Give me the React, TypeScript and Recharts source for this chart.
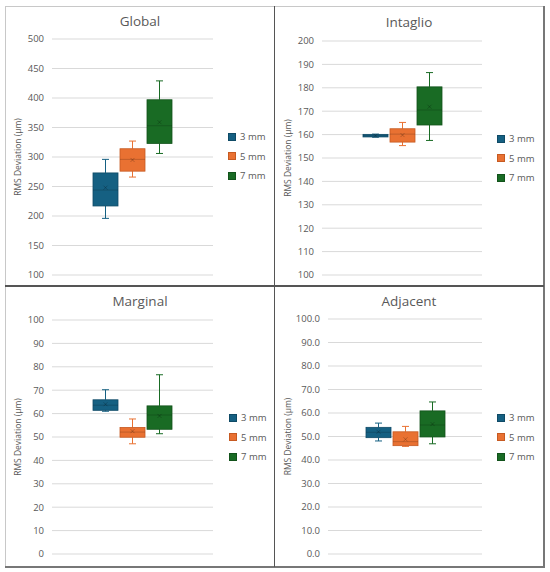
import React from 'react';
import { BarChart, Bar, XAxis, YAxis, CartesianGrid, Legend, Label } from 'recharts';

// series
const seriesNames = ['3 mm', '5 mm', '7 mm'];
const seriesColors = ['#156082', '#E97132', '#196B24'];
const seriesEdges = ['#0f4a66', '#c65a22', '#12521b'];

// each box: [min, q1, median, q3, max, mean]
const globalBoxes = [
  [196, 217, 244, 273, 296, 248],
  [266, 276, 296, 314, 327, 295],
  [306, 323, 353, 397, 429, 359],
];
const intaglioBoxes = [
  [158.9, 159.0, 159.5, 160.1, 160.2, 159.5],
  [155.3, 156.8, 160.2, 162.5, 165.2, 159.8],
  [157.5, 164.1, 170.5, 180.4, 186.5, 171.9],
];
const marginalBoxes = [
  [61.0, 61.4, 63.6, 65.9, 70.2, 64.0],
  [47.1, 49.9, 52.1, 54.1, 57.7, 52.5],
  [51.4, 53.3, 59.4, 63.3, 76.6, 59.0],
];
const adjacentBoxes = [
  [48.1, 49.5, 51.8, 53.9, 55.7, 52.0],
  [45.8, 46.1, 47.8, 52.0, 54.3, 48.8],
  [46.9, 49.8, 54.9, 60.9, 64.7, 55.3],
];

const globalTicks = [100, 150, 200, 250, 300, 350, 400, 450, 500];
const intaglioTicks = [100, 110, 120, 130, 140, 150, 160, 170, 180, 190, 200];
const marginalTicks = [0, 10, 20, 30, 40, 50, 60, 70, 80, 90, 100];
const adjacentTicks = [0, 10, 20, 30, 40, 50, 60, 70, 80, 90, 100];

const yLabel = 'RMS Deviation (µm)';
const FONT = '"Open Sans", "Liberation Sans", sans-serif';
const GREY = '#595959';

const BoxShape = (props: any) => {
  const { x, y, width, height, stat, color, edge } = props;
  const [mn, q1, med, q3, mx, mean] = stat;
  const top = Math.min(y, y + height);
  const bottom = Math.max(y, y + height);
  const ppu = (bottom - top) / (q3 - q1);
  const sy = (v: number) => bottom - (v - q1) * ppu;
  const cx = x + width / 2;
  const cap = 3.5;
  const m = 2;
  return (
    <g>
      <line x1={cx} x2={cx} y1={sy(mx)} y2={top} stroke={color} strokeWidth={1} />
      <line x1={cx} x2={cx} y1={bottom} y2={sy(mn)} stroke={color} strokeWidth={1} />
      <line x1={cx - cap} x2={cx + cap} y1={sy(mx)} y2={sy(mx)} stroke={color} strokeWidth={1} />
      <line x1={cx - cap} x2={cx + cap} y1={sy(mn)} y2={sy(mn)} stroke={color} strokeWidth={1} />
      <rect x={x} y={top} width={width} height={Math.max(bottom - top, 1.5)} fill={color} stroke={edge} strokeWidth={0.8} />
      <line x1={x} x2={x + width} y1={sy(med)} y2={sy(med)} stroke="rgba(0,0,0,0.18)" strokeWidth={1} />
      <path
        d={`M${cx - m},${sy(mean) - m}L${cx + m},${sy(mean) + m}M${cx - m},${sy(mean) + m}L${cx + m},${sy(mean) - m}`}
        stroke="rgba(0,0,0,0.22)"
        strokeWidth={1}
        fill="none"
      />
    </g>
  );
};

const LegendBox = (props: any) => {
  const { payload } = props;
  return (
    <div style={{ fontFamily: FONT, fontSize: 9.5, color: GREY }}>
      {(payload || []).map((p: any, i: number) => (
        <div key={i} style={{ height: 19.5, display: 'flex', alignItems: 'center' }}>
          <span
            style={{
              width: 8,
              height: 8,
              background: p.color,
              border: `0.8px solid ${seriesEdges[i]}`,
              boxSizing: 'border-box',
              marginRight: 4,
              display: 'inline-block',
            }}
          />
          <span>{p.value}</span>
        </div>
      ))}
    </div>
  );
};

interface PanelProps {
  title: string;
  boxes: number[][];
  ticks: number[];
  decimals: number;
  left: number;
  top: number;
  margin: { top: number; right: number; bottom: number };
  axisWidth: number;
  labelX: number;
  titleX: number;
  titleY: number;
  legendX: number;
  legendY: number;
}

const Panel: React.FC<PanelProps> = ({
  title, boxes, ticks, decimals, left, top, margin, axisWidth, labelX, titleX, titleY, legendX, legendY,
}) => {
  const row: any = { name: title };
  boxes.forEach((b, i) => {
    row['s' + i] = [b[1], b[3]];
  });
  return (
    <div style={{ position: 'absolute', left, top, width: 275, height: 287 }}>
      <div
        style={{
          position: 'absolute',
          left: titleX - 60,
          top: titleY - 10,
          width: 120,
          height: 20,
          lineHeight: '20px',
          textAlign: 'center',
          fontFamily: FONT,
          fontSize: 13.5,
          color: GREY,
        }}
      >
        {title}
      </div>
      <BarChart
        width={275}
        height={287}
        data={[row]}
        margin={{ top: margin.top, right: margin.right, bottom: margin.bottom, left: 0 }}
        barSize={25}
        barGap={2}
      >
        <CartesianGrid vertical={false} stroke="#d9d9d9" />
        <XAxis dataKey="name" hide />
        <YAxis
          width={axisWidth}
          domain={[ticks[0], ticks[ticks.length - 1]]}
          ticks={ticks}
          interval={0}
          axisLine={false}
          tickLine={false}
          tickFormatter={(v: number) => v.toFixed(decimals)}
          tick={{ fontSize: 9.5, fill: GREY, fontFamily: FONT }}
        >
          <Label
            content={(p: any) => {
              const vb = p.viewBox || {};
              const cy = vb.y + vb.height / 2;
              return (
                <text
                  x={labelX}
                  y={cy}
                  transform={`rotate(-90 ${labelX} ${cy})`}
                  textAnchor="middle"
                  dominantBaseline="central"
                  fontSize={8.5}
                  fontFamily={FONT}
                  fill={GREY}
                >
                  {yLabel}
                </text>
              );
            }}
          />
        </YAxis>
        <Legend
          layout="vertical"
          align="center"
          verticalAlign="middle"
          wrapperStyle={{ left: legendX, top: legendY, width: 60 }}
          content={<LegendBox />}
        />
        {boxes.map((b, i) => (
          <Bar
            key={i}
            dataKey={'s' + i}
            name={seriesNames[i]}
            fill={seriesColors[i]}
            isAnimationActive={false}
            shape={(p: any) => <BoxShape {...p} stat={b} color={seriesColors[i]} edge={seriesEdges[i]} />}
          />
        ))}
      </BarChart>
    </div>
  );
};

export default function App() {
  return (
    <div
      style={{
        position: 'absolute',
        left: 0,
        top: 0,
        width: 550,
        height: 572,
        background: '#fff',
        overflow: 'hidden',
      }}
    >
      <Panel
        title="Global" boxes={globalBoxes} ticks={globalTicks} decimals={0}
        left={0} top={0} margin={{ top: 39, right: 62, bottom: 12 }} axisWidth={52}
        labelX={17} titleX={140} titleY={21} legendX={228} legendY={127}
      />
      <Panel
        title="Intaglio" boxes={intaglioBoxes} ticks={intaglioTicks} decimals={0}
        left={275} top={0} margin={{ top: 41, right: 68, bottom: 12 }} axisWidth={47}
        labelX={12} titleX={134} titleY={22} legendX={222} legendY={129}
      />
      <Panel
        title="Marginal" boxes={marginalBoxes} ticks={marginalTicks} decimals={0}
        left={0} top={285} margin={{ top: 35, right: 62, bottom: 18 }} axisWidth={52}
        labelX={17} titleX={140} titleY={16} legendX={229} legendY={123}
      />
      <Panel
        title="Adjacent" boxes={adjacentBoxes} ticks={adjacentTicks} decimals={1}
        left={275} top={285} margin={{ top: 34, right: 68, bottom: 18 }} axisWidth={53}
        labelX={12} titleX={134} titleY={16} legendX={222} legendY={123}
      />
      {/* frame */}
      <div style={{ position: 'absolute', left: 5, top: 6, width: 539, height: 1, background: '#c8c8c8' }} />
      <div style={{ position: 'absolute', left: 5, top: 6, width: 1, height: 561, background: '#c8c8c8' }} />
      <div style={{ position: 'absolute', left: 543, top: 6, width: 1.5, height: 561, background: '#777' }} />
      <div style={{ position: 'absolute', left: 5, top: 566, width: 540, height: 1.5, background: '#777' }} />
      <div style={{ position: 'absolute', left: 273.5, top: 6, width: 1.6, height: 561, background: '#555' }} />
      <div style={{ position: 'absolute', left: 5, top: 285, width: 539, height: 1.6, background: '#555' }} />
    </div>
  );
}
